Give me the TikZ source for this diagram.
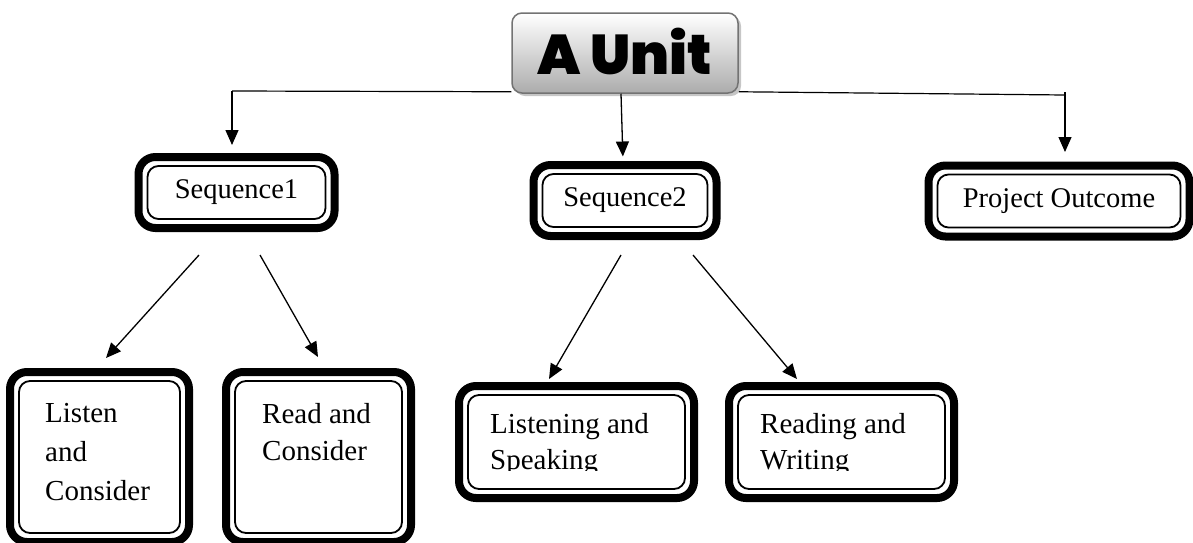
\documentclass[tikz,border=0pt]{standalone}
\usepackage{fontspec}
\setmainfont{Liberation Serif}
\newfontfamily\unitfont{Poppins Black}
\usetikzlibrary{arrows.meta,shadows}
\begin{document}
\begin{tikzpicture}[x=1pt,y=-1pt,
  dbox/.style={draw=black, line width=8pt, rounded corners=17pt, inner sep=0pt, fill=white,
    path picture={\draw[line width=1.8pt, rounded corners=11pt]
      ([shift={(9pt,-9pt)}]path picture bounding box.north west) rectangle
      ([shift={(-9pt,9pt)}]path picture bounding box.south east);}},
  seqfont/.style={font=\fontsize{28.5}{34}\selectfont},
  lbl/.style={align=left, inner sep=0pt, anchor=north west},
  arr/.style={line width=1.3pt, -{Triangle[length=15pt,width=13pt]}},
  link/.style={line width=1.2pt},
  unitbox/.style={draw=gray!90!black, line width=1.5pt, rounded corners=10pt,
    top color=white, bottom color=gray!65,
    drop shadow={shadow xshift=3pt, shadow yshift=-3pt, opacity=0.45, fill=gray},
    font=\unitfont\fontsize{56}{56}\selectfont, inner sep=0pt}
]
\clip (0,0) rectangle (1193,542);

% top box
\node[unitbox, minimum width=226pt, minimum height=80pt] (unit) at (625,53) {\raisebox{4pt}{A Unit}};

% second level
\node[dbox, seqfont, minimum width=196pt, minimum height=71pt] (s1) at (236.5,192.5) {Sequence1};
\node[dbox, seqfont, minimum width=183pt, minimum height=71pt] (s2) at (625,200.5) {Sequence2};
\node[dbox, seqfont, minimum width=261pt, minimum height=71pt] (pj) at (1059,201) {Project Outcome};

% third level boxes
\node[dbox, minimum width=179pt, minimum height=170pt] (lc) at (99.5,457) {};
\node[dbox, minimum width=185pt, minimum height=170pt] (rc) at (318.5,457) {};
\node[dbox, minimum width=235pt, minimum height=112pt] (ls) at (576.5,442) {};
\node[dbox, minimum width=225pt, minimum height=112pt] (rw) at (841.5,442) {};

% texts
\node[lbl, font=\fontsize{29}{39}\selectfont] (lct) at (45,403) {Listen\\and\\Consider};
\node[lbl, font=\fontsize{29}{37}\selectfont] (rct) at (262,403) {Read and\\Consider};
\begin{scope}
  \clip (440,380) rectangle (970,470);
  \node[lbl, font=\fontsize{29}{36}\selectfont] (lst) at (490,413) {Listening and\\Speaking};
  \node[lbl, font=\fontsize{29}{36}\selectfont] (rwt) at (760,413) {Reading and\\Writing};
\end{scope}

% tree connectors from the unit box
\coordinate (jl) at (232,91);
\coordinate (jr) at (1065,95);
\coordinate (jrt) at (1065,92);
\draw[link] ([yshift=2pt]unit.south west) -- (jl);
\draw[arr, shorten >=8pt] (jl) -- (s1.north -| jl);
\draw[arr, shorten >=4.5pt] ([xshift=-4pt]unit.south) -- ([xshift=-2pt]s2.north);
\draw[link] ([yshift=2pt]unit.south east) -- (jr);
\draw[arr, shorten >=9.5pt] (jrt) -- (pj.north -| jrt);

% diagonal arrows
\coordinate (a1s) at (199,255);  \coordinate (a1e) at (106,358);
\coordinate (a2s) at (260,255);  \coordinate (a2e) at (318,357);
\coordinate (a3s) at (621,255);  \coordinate (a3e) at (549,379);
\coordinate (a4s) at (693,255);  \coordinate (a4e) at (797,379);
\draw[arr] (a1s) -- (a1e);
\draw[arr] (a2s) -- (a2e);
\draw[arr] (a3s) -- (a3e);
\draw[arr] (a4s) -- (a4e);
\end{tikzpicture}
\end{document}
